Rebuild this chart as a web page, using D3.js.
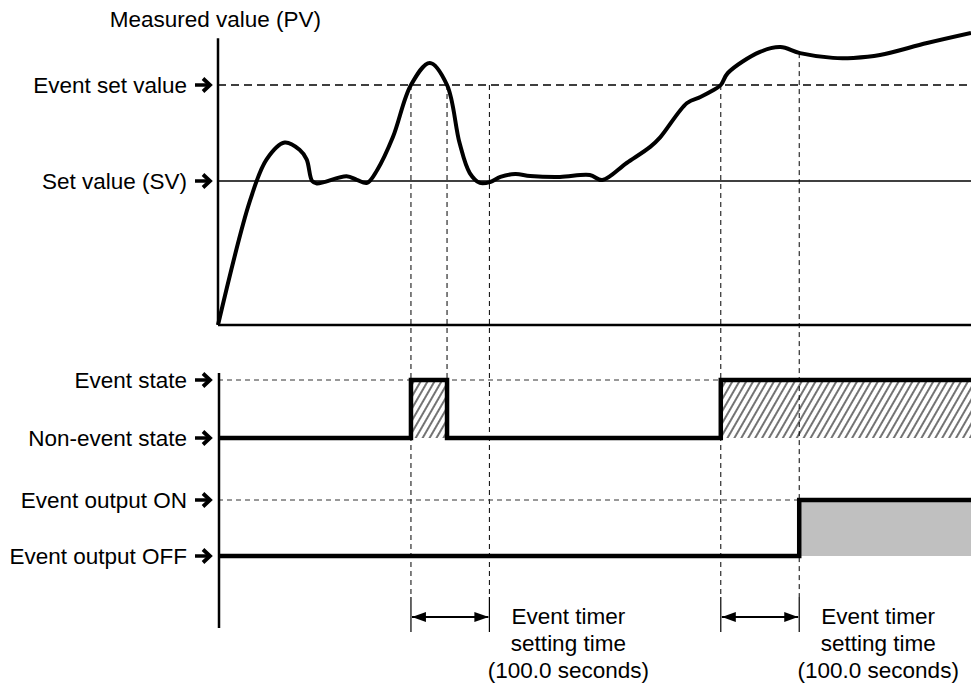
<!DOCTYPE html>
<html>
<head>
<meta charset="utf-8">
<script src="https://cdn.jsdelivr.net/npm/d3@7"></script>
<style>
  body { margin: 0; background: #fff; }
  svg text { font-family: "Liberation Sans", Arial, sans-serif; font-size: 22.5px; fill: #000; }
</style>
</head>
<body>
<svg width="971" height="684"></svg>
<script>
// time in seconds, PV in arbitrary units (SV = 60, event set value = 100)
var pvTime = [0, 41, 62, 85, 104, 113, 120, 126, 164, 177, 190, 203, 223, 246, 270, 292, 308, 321, 334, 347, 360, 379, 398, 436, 474, 490, 521, 551, 564, 598, 615, 630, 641, 650, 691, 717, 742, 784, 810, 844, 904, 960];
var pvValue = [0, 52, 69, 76, 73, 69, 60, 59, 62, 60.5, 59.2, 64.6, 78.3, 100, 109.2, 100, 75.8, 63.3, 59.2, 59.6, 61.7, 62.9, 62.1, 61.7, 62.5, 60.4, 67.5, 74.2, 78.3, 92.5, 95, 97.6, 100, 105, 113.8, 115.8, 113.3, 111.3, 111.3, 112.5, 117.5, 121.7];

var setValue = 60, eventSetValue = 100;
var timerSetting = 100;           // seconds
var eventStart = [246, 641];
var eventEnd = [292, 960];
var tEnd = 960;

var levelLabelsTop = ["Event set value", "Set value (SV)"];
var stateLabels = ["Event state", "Non-event state", "Event output ON", "Event output OFF"];
var timerText = ["Event timer", "setting time", "(100.0 seconds)"];

var svg = d3.select("svg");

var x = d3.scaleLinear().domain([0, tEnd]).range([218, 971]);
var y = d3.scaleLinear().domain([0, 125]).range([325, 25]);
// rows of the lower timing diagrams
var row = d3.scaleOrdinal().domain(stateLabels).range([380, 438, 500, 556]);

var defs = svg.append("defs");
defs.append("pattern")
    .attr("id", "hatch")
    .attr("patternUnits", "userSpaceOnUse")
    .attr("width", 6).attr("height", 6)
    .attr("patternTransform", "rotate(30)")
  .append("line")
    .attr("x1", 3).attr("y1", 0).attr("x2", 3).attr("y2", 6)
    .attr("stroke", "#000").attr("stroke-width", 1.1);

// heavy arrow used in front of every level label
function labelArrow(yy) {
  var g = svg.append("g").attr("transform", "translate(0," + yy + ")");
  g.append("line").attr("x1", 195).attr("x2", 209).attr("y1", 0).attr("y2", 0)
      .attr("stroke", "#000").attr("stroke-width", 3.5);
  g.append("path").attr("d", "M203,-6.5L210,0L203,6.5")
      .attr("fill", "none").attr("stroke", "#000").attr("stroke-width", 3.8)
      .attr("stroke-linejoin", "miter");
}

// ---------- top panel ----------
svg.append("text").attr("x", 321).attr("y", 27).attr("text-anchor", "end").text("Measured value (PV)");

svg.append("line").attr("x1", x(0)).attr("x2", x(tEnd)).attr("y1", y(eventSetValue)).attr("y2", y(eventSetValue))
    .attr("stroke", "#000").attr("stroke-width", 1.5).attr("stroke-dasharray", "8,5");
svg.append("line").attr("x1", x(0)).attr("x2", x(tEnd)).attr("y1", y(setValue)).attr("y2", y(setValue))
    .attr("stroke", "#000").attr("stroke-width", 1.5);

[eventSetValue, setValue].forEach(function (v, i) {
  svg.append("text").attr("x", 187).attr("y", y(v) + 8).attr("text-anchor", "end").text(levelLabelsTop[i]);
  labelArrow(y(v));
});

// guide lines at the event / timer instants
var guides = [
  { t: eventStart[0], top: y(eventSetValue), bottom: 597, tick: true },
  { t: eventEnd[0], top: y(eventSetValue), bottom: row("Non-event state"), tick: false },
  { t: eventStart[0] + timerSetting, top: y(eventSetValue), bottom: 597, tick: true },
  { t: eventStart[1], top: y(eventSetValue), bottom: 597, tick: true },
  { t: eventStart[1] + timerSetting, top: y(113.3), bottom: 597, tick: true }
];
guides.forEach(function (g) {
  svg.append("line").attr("x1", x(g.t)).attr("x2", x(g.t)).attr("y1", g.top).attr("y2", g.bottom)
      .attr("stroke", "#000").attr("stroke-width", 1).attr("stroke-dasharray", "5,4");
  if (g.tick) {
    svg.append("line").attr("x1", x(g.t)).attr("x2", x(g.t)).attr("y1", 597).attr("y2", 632)
        .attr("stroke", "#000").attr("stroke-width", 1.2);
  }
});

var pvLine = d3.line()
    .x(function (d) { return x(d[0]); })
    .y(function (d) { return y(d[1]); })
    .curve(d3.curveCatmullRom.alpha(0.5));
svg.append("path")
    .datum(d3.zip(pvTime, pvValue))
    .attr("d", pvLine)
    .attr("fill", "none").attr("stroke", "#000").attr("stroke-width", 4)
    .attr("stroke-linejoin", "round");

// axes of top panel
svg.append("line").attr("x1", x(0)).attr("x2", x(0)).attr("y1", y(119.5)).attr("y2", y(0))
    .attr("stroke", "#000").attr("stroke-width", 2.5);
svg.append("line").attr("x1", x(0)).attr("x2", x(tEnd)).attr("y1", y(0)).attr("y2", y(0))
    .attr("stroke", "#000").attr("stroke-width", 2.5);

// ---------- lower panel ----------
stateLabels.forEach(function (s) {
  svg.append("text").attr("x", 187).attr("y", row(s) + 8).attr("text-anchor", "end").text(s);
  labelArrow(row(s));
});

svg.append("line").attr("x1", x(0)).attr("x2", x(tEnd)).attr("y1", row("Event state")).attr("y2", row("Event state"))
    .attr("stroke", "#333").attr("stroke-width", 1).attr("stroke-dasharray", "5,4");
var outOn = eventStart[1] + timerSetting;
svg.append("line").attr("x1", x(0)).attr("x2", x(outOn)).attr("y1", row("Event output ON")).attr("y2", row("Event output ON"))
    .attr("stroke", "#333").attr("stroke-width", 1).attr("stroke-dasharray", "5,4");

// hatched event intervals
eventStart.forEach(function (t, i) {
  svg.append("rect")
      .attr("x", x(t)).attr("y", row("Event state"))
      .attr("width", x(eventEnd[i]) - x(t))
      .attr("height", row("Non-event state") - row("Event state"))
      .attr("fill", "url(#hatch)");
});

// grey output-on area
svg.append("rect")
    .attr("x", x(outOn)).attr("y", row("Event output ON"))
    .attr("width", x(tEnd) - x(outOn))
    .attr("height", row("Event output OFF") - row("Event output ON"))
    .attr("fill", "#c0c0c0");

// event state signal
var stateSteps = [[0, 0]];
eventStart.forEach(function (t, i) {
  stateSteps.push([t, 1]);
  stateSteps.push([eventEnd[i], 0]);
});
stateSteps[stateSteps.length - 1] = [tEnd, 1];
var stateLine = d3.line()
    .x(function (d) { return x(d[0]); })
    .y(function (d) { return d[1] ? row("Event state") : row("Non-event state"); })
    .curve(d3.curveStepAfter);
svg.append("path").datum(stateSteps).attr("d", stateLine)
    .attr("fill", "none").attr("stroke", "#000").attr("stroke-width", 4.5).attr("stroke-linejoin", "miter");

var outSteps = [[0, 0], [outOn, 1], [tEnd, 1]];
var outLine = d3.line()
    .x(function (d) { return x(d[0]); })
    .y(function (d) { return d[1] ? row("Event output ON") : row("Event output OFF"); })
    .curve(d3.curveStepAfter);
svg.append("path").datum(outSteps).attr("d", outLine)
    .attr("fill", "none").attr("stroke", "#000").attr("stroke-width", 4.5).attr("stroke-linejoin", "miter");

// axis of lower panel
svg.append("line").attr("x1", x(0) + 1).attr("x2", x(0) + 1).attr("y1", 373).attr("y2", 628)
    .attr("stroke", "#000").attr("stroke-width", 2.5);

// timer arrows and captions
defs.append("marker").attr("id", "ah").attr("viewBox", "0 0 14 10")
    .attr("refX", 14).attr("refY", 5).attr("markerWidth", 14).attr("markerHeight", 10)
    .attr("markerUnits", "userSpaceOnUse").attr("orient", "auto-start-reverse")
  .append("path").attr("d", "M0,0L14,5L0,10Z").attr("fill", "#000");

eventStart.forEach(function (t) {
  svg.append("line").attr("x1", x(t) + 1).attr("x2", x(t + timerSetting) - 1)
      .attr("y1", 617).attr("y2", 617)
      .attr("stroke", "#000").attr("stroke-width", 2)
      .attr("marker-start", "url(#ah)").attr("marker-end", "url(#ah)");
  var cx = x(t + timerSetting) + 79;
  timerText.forEach(function (s, j) {
    svg.append("text").attr("x", cx).attr("y", 624 + j * 27).attr("text-anchor", "middle").text(s);
  });
});
</script>
</body>
</html>
